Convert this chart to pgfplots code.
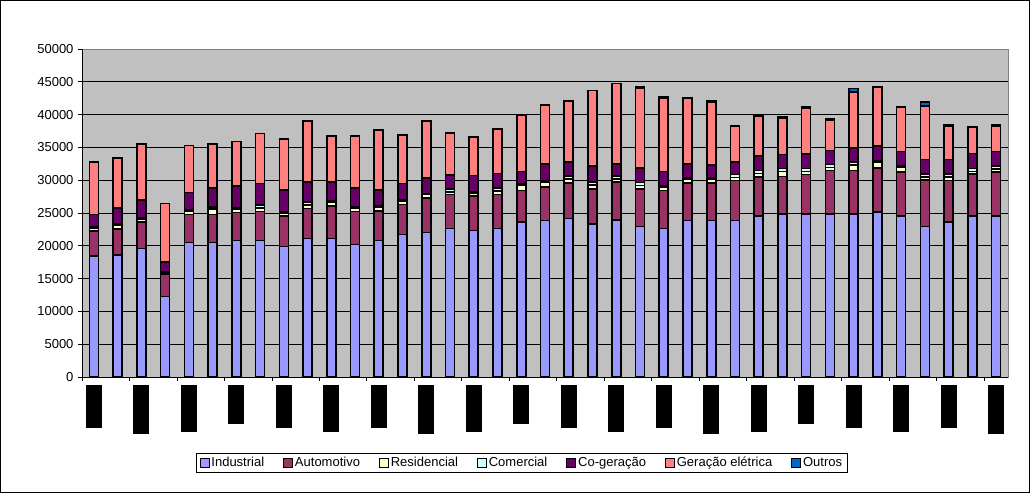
\documentclass[border=0pt]{standalone}
\usepackage{fontspec}
\setmainfont{Liberation Sans}
\usepackage{pgfplots}
\usepackage{pgfplotstable}
\pgfplotsset{compat=1.18}

\definecolor{cind}{HTML}{9999FF}
\definecolor{caut}{HTML}{993366}
\definecolor{cres}{HTML}{FFFFCC}
\definecolor{ccom}{HTML}{CCFFFF}
\definecolor{ccog}{HTML}{660066}
\definecolor{cger}{HTML}{FF8080}
\definecolor{cout}{HTML}{0066CC}
\definecolor{fundo}{HTML}{C0C0C0}
\definecolor{borda}{HTML}{808080}

\pgfplotstableread{
x  ind   aut  res com cog  ger   out
0  18400 3900 400 250 1800 8000  0
1  18600 4000 500 200 2500 7600  0
2  19600 4000 500 200 2650 8600  0
3  12300 3300 250 150 1500 8950  0
4  20500 4250 500 200 2700 7150  0
5  20500 4250 900 300 2850 6750  0
6  20800 4300 500 200 3300 6800  0
7  20800 4450 550 450 3250 7600  0
8  19900 4600 500 250 3250 7750  0
9  21100 4600 500 500 3000 9350  0
10 21100 4950 550 200 2900 7050  0
11 20200 5000 500 200 2950 7900  0
12 20800 4550 550 200 2400 9150  0
13 21700 4600 500 200 2500 7350  0
14 22050 5200 550 200 2350 8700  0
15 22650 5200 350 450 2100 6400  0
16 22350 5200 500 200 2450 5900  0
17 22650 5200 500 450 2200 6850  0
18 23600 4850 850 200 1800 8600  0
19 23850 5100 800 200 2550 8950  0
20 24150 5450 550 450 2150 9350  0
21 23350 5350 600 400 2450 11500 0
22 23900 5800 500 450 1850 12250 0
23 22950 5750 500 450 2250 12150 150
24 22650 5800 500 200 2150 11250 150
25 23850 5750 500 200 2200 10050 0
26 23850 5750 500 250 2000 9600  150
27 23850 6100 450 450 1900 5500  0
28 24500 6000 500 450 2200 6150  150
29 24850 5700 800 450 2100 5550  150
30 24850 6000 500 450 2150 7050  150
31 24850 6650 450 450 2150 4600  150
32 24850 6650 800 450 2200 8500  550
33 25150 6700 850 250 2250 8950  150
34 24500 6750 750 250 2100 6750  150
35 22950 7050 500 450 2200 8200  600
36 23650 6300 500 450 2250 5100  150
37 24500 6400 450 450 2250 4000  150
38 24500 6750 450 450 2250 3850  150
}\dados

\newcommand{\bl}[1]{\rule{16pt}{#1pt}}

\begin{document}
\begin{tikzpicture}[x=1pt,y=1pt]
\useasboundingbox (0,0) rectangle (1030,493);
\draw[black, line width=1pt] (0.5,0.5) rectangle (1029.5,492.5);
\begin{axis}[
    at={(82pt,116pt)}, anchor=south west,
    scale only axis, width=926pt, height=328pt,
    ybar stacked, bar width=9pt,
    xmin=-0.5, xmax=38.5,
    ymin=0, ymax=50000,
    ytick={0,5000,...,50000},
    xtick={-0.5,1.5,...,37.5},
    xticklabels={},
    extra x ticks={0,2,...,38},
    extra x tick labels={\bl{43},\bl{49},\bl{47},\bl{39},\bl{43},\bl{47},\bl{43},\bl{49},\bl{47},\bl{39},
                         \bl{43},\bl{47},\bl{43},\bl{49},\bl{47},\bl{39},\bl{43},\bl{47},\bl{43},\bl{49}},
    extra x tick style={major tick length=0pt, xmajorgrids=false,
        xticklabel style={inner sep=0pt, anchor=north, yshift=-8pt}},
    scaled y ticks=false,
    yticklabel style={/pgf/number format/1000 sep={}, /pgf/number format/assume math mode=true,
        font=\fontsize{13}{15}\selectfont, xshift=-1pt},
    ymajorgrids, major grid style={black, line width=0.9pt},
    tick align=outside, tick pos=left, major tick length=4pt,
    tick style={black, line width=0.9pt},
    axis background/.style={fill=fundo},
    axis line style={draw=borda, line width=1pt},
    every axis plot/.append style={draw=black, line width=1.6pt},
    legend image code/.code={\draw[#1, line width=0.8pt] (0pt,-4.5pt) rectangle (9pt,4.5pt);},
    legend style={at={(0.475,-0.262)}, anchor=center, draw=black, line width=0.8pt,
        fill=white, font=\fontsize{13}{15}\selectfont, legend columns=7,
        inner xsep=3pt, inner ysep=2pt,
        /tikz/every even column/.append style={column sep=17pt}},
    legend cell align=left,
]
\addplot[fill=cind] table[x=x, y=ind] {\dados};
\addplot[fill=caut] table[x=x, y=aut] {\dados};
\addplot[fill=cres] table[x=x, y=res] {\dados};
\addplot[fill=ccom] table[x=x, y=com] {\dados};
\addplot[fill=ccog] table[x=x, y=cog] {\dados};
\addplot[fill=cger] table[x=x, y=ger] {\dados};
\addplot[fill=cout] table[x=x, y=out] {\dados};
\legend{Industrial,Automotivo,Residencial,Comercial,Co-geração,Geração elétrica,Outros}
\draw[black, line width=1pt] (rel axis cs:0,1) -- (rel axis cs:0,0) -- (rel axis cs:1,0);
\end{axis}
\end{tikzpicture}
\end{document}
